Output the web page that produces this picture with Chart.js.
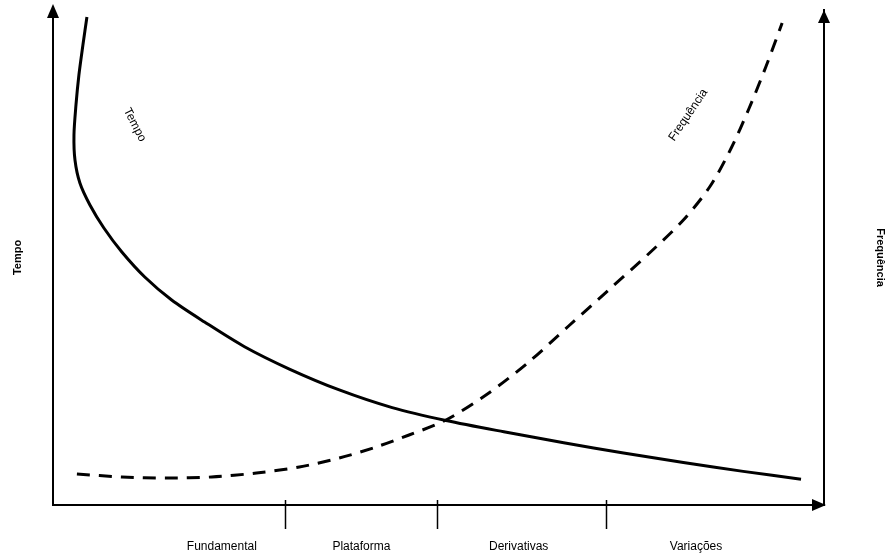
<!DOCTYPE html>
<html>
<head>
<meta charset="utf-8">
<script src="https://cdn.jsdelivr.net/npm/chart.js@4.4.0/dist/chart.umd.min.js"></script>
<style>
  body { margin: 0; background: #fff; }
</style>
</head>
<body>
<canvas id="chart" width="896" height="558"></canvas>
<script>
// phases along the horizontal axis
var categories = ["Fundamental", "Plataforma", "Derivativas", "Variações"];
var categoryPos = [21.9, 40.0, 60.4, 83.4];
var boundaries = [30.1, 49.8, 71.7];

// Tempo curve (solid), x/y, 0-100 scale
var tempoX = [4.40, 3.88, 3.36, 2.98, 2.72, 2.85, 3.49, 4.79, 6.60, 8.93, 11.90, 15.39, 19.66, 24.84, 30.66, 37.13, 43.99, 50.97, 58.47, 66.24, 74.00, 81.76, 89.52, 97.02];
var tempoY = [98.59, 92.93, 86.87, 80.81, 74.75, 69.70, 65.05, 60.61, 55.96, 51.11, 46.06, 41.41, 36.97, 31.98, 27.47, 23.25, 19.68, 17.07, 14.79, 12.59, 10.51, 8.59, 6.79, 5.21];

// Frequência curve (dashed)
var freqX = [3.10, 8.93, 14.75, 20.57, 26.39, 31.95, 37.13, 41.91, 46.18, 50.97, 56.53, 61.71, 66.88, 72.06, 77.23, 81.76, 85.25, 87.97, 90.30, 92.50, 94.57];
var freqY = [6.26, 5.66, 5.45, 5.66, 6.46, 7.68, 9.49, 11.72, 14.14, 17.17, 22.63, 28.89, 36.16, 43.43, 50.71, 57.58, 64.44, 72.12, 80.20, 88.69, 97.37];

// curve name labels inside the plot
var curveLabels = ["Tempo", "Frequência"];
var curveLabelX = [10.6, 82.4];
var curveLabelY = [76.8, 78.8];
var curveLabelAngle = [63, -56];

function toPoints(xs, ys) {
    var pts = [];
    for (var i = 0; i < xs.length; i++) {
        pts.push({x: xs[i], y: ys[i]});
    }
    return pts;
}

var FONT = "'Liberation Sans', Arial, sans-serif";
Chart.defaults.font.family = FONT;
Chart.defaults.color = "#000";

var arrowPlugin = {
    id: "arrows",
    afterDraw: function(chart) {
        var ctx = chart.ctx;
        var a = chart.chartArea;
        var xs = chart.scales.x;
        ctx.save();
        ctx.fillStyle = "#000";
        ctx.strokeStyle = "#000";

        // up arrows on both vertical axes
        ctx.beginPath();
        ctx.moveTo(a.left, a.top - 6);
        ctx.lineTo(a.left - 6, a.top + 8);
        ctx.lineTo(a.left + 6, a.top + 8);
        ctx.closePath();
        ctx.fill();

        ctx.beginPath();
        ctx.moveTo(a.right, a.top);
        ctx.lineTo(a.right - 6, a.top + 13);
        ctx.lineTo(a.right + 6, a.top + 13);
        ctx.closePath();
        ctx.fill();

        // right arrow on the x axis
        ctx.beginPath();
        ctx.moveTo(a.right + 2, a.bottom);
        ctx.lineTo(a.right - 12, a.bottom - 6);
        ctx.lineTo(a.right - 12, a.bottom + 6);
        ctx.closePath();
        ctx.fill();

        // phase separators
        ctx.lineWidth = 1.5;
        for (var i = 0; i < boundaries.length; i++) {
            var px = Math.round(xs.getPixelForValue(boundaries[i])) + 0.5;
            ctx.beginPath();
            ctx.moveTo(px, a.bottom - 5);
            ctx.lineTo(px, a.bottom + 24);
            ctx.stroke();
        }

        // curve names
        ctx.font = "12px " + FONT;
        ctx.textAlign = "center";
        ctx.textBaseline = "middle";
        for (var j = 0; j < curveLabels.length; j++) {
            var lx = xs.getPixelForValue(curveLabelX[j]);
            var ly = chart.scales.y.getPixelForValue(curveLabelY[j]);
            ctx.save();
            ctx.translate(lx, ly);
            ctx.rotate(curveLabelAngle[j] * Math.PI / 180);
            ctx.fillText(curveLabels[j], 0, 0);
            ctx.restore();
        }
        ctx.restore();
    }
};

var ctx0 = document.getElementById("chart");
var myChart = new Chart(ctx0, {
    type: "line",
    data: {
        datasets: [{
            label: "Tempo",
            data: toPoints(tempoX, tempoY),
            borderColor: "#000",
            borderWidth: 3,
            pointRadius: 0,
            tension: 0.3,
            fill: false,
            yAxisID: "y"
        }, {
            label: "Frequência",
            data: toPoints(freqX, freqY),
            borderColor: "#000",
            borderWidth: 3,
            borderDash: [13, 9],
            pointRadius: 0,
            tension: 0.3,
            fill: false,
            yAxisID: "y2"
        }]
    },
    options: {
        responsive: false,
        animation: false,
        devicePixelRatio: 1,
        layout: { padding: { top: 10, right: 0, bottom: 0, left: 0 } },
        plugins: {
            legend: { display: false },
            tooltip: { enabled: false }
        },
        scales: {
            x: {
                type: "linear",
                min: 0,
                max: 100,
                grid: { display: false, drawTicks: false },
                border: { display: true, color: "#000", width: 2 },
                afterBuildTicks: function(scale) {
                    scale.ticks = categoryPos.map(function(v) { return {value: v}; });
                },
                ticks: {
                    autoSkip: false,
                    maxRotation: 0,
                    padding: 34,
                    font: { size: 12 },
                    color: "#000",
                    callback: function(value, index) { return categories[index]; }
                },
                afterFit: function(scale) { scale.height = 53; }
            },
            y: {
                position: "left",
                min: 0,
                max: 100,
                grid: { display: false, drawTicks: false },
                border: { display: true, color: "#000", width: 2 },
                ticks: { display: false },
                title: {
                    display: true,
                    text: "Tempo",
                    font: { size: 11, weight: "bold" },
                    color: "#000",
                    padding: { top: 11, bottom: 0 }
                },
                afterFit: function(scale) { scale.width = 53; }
            },
            y2: {
                position: "right",
                min: 0,
                max: 100,
                grid: { display: false, drawTicks: false },
                border: { display: true, color: "#000", width: 2 },
                ticks: { display: false },
                title: {
                    display: true,
                    text: "Frequência",
                    font: { size: 11, weight: "bold" },
                    color: "#000",
                    padding: { top: 9, bottom: 0 }
                },
                afterFit: function(scale) { scale.width = 72; }
            }
        }
    },
    plugins: [arrowPlugin]
});
</script>
</body>
</html>
